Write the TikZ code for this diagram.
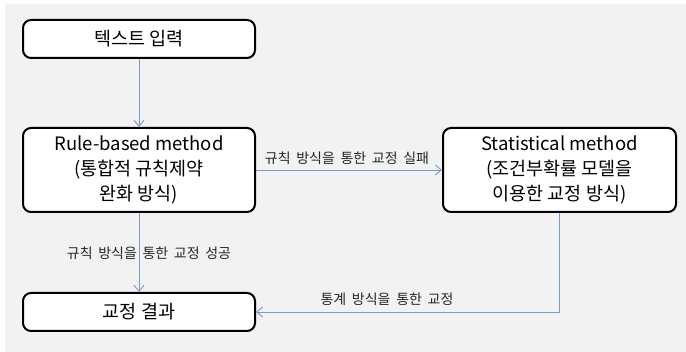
\documentclass[tikz,border=0pt]{standalone}
\usepackage{fontspec}
\setmainfont{Noto Sans CJK KR}
\newfontfamily\lblfont[WordSpace=1.8]{Noto Sans CJK KR}
\usetikzlibrary{arrows.meta,positioning}
\definecolor{bgc}{HTML}{F2F2F2}
\definecolor{arr}{HTML}{7A98C8}
\tikzset{
  box/.style={draw=black, line width=2pt, rounded corners=8pt, fill=white, align=center, font=\fontsize{18.5}{25}\selectfont, inner sep=0pt},
  conn/.style={draw=arr, line width=0.9pt, -{Straight Barb[length=6pt,width=10pt]}},
  lbl/.style={font=\lblfont\fontsize{14}{15}\selectfont, text=black!85, inner sep=0pt}
}
\begin{document}
\begin{tikzpicture}[x=1pt,y=-1pt]
\useasboundingbox (0,0) rectangle (686,352);
\fill[bgc] (5,4) rectangle (686,352);
\node[box, minimum width=232pt, minimum height=38pt] (input) at (139,39) {텍스트 입력};
\node[box, minimum width=232pt, minimum height=84pt] (rule) at (139,170) {Rule-based method\\(통합적 규칙제약\\완화 방식)};
\node[box, minimum width=233pt, minimum height=84pt] (stat) at (559.5,170) {Statistical method\\(조건부확률 모델을\\이용한 교정 방식)};
\node[box, minimum width=232pt, minimum height=38pt] (result) at (139,312) {교정 결과};
\draw[conn] (input.south) -- (rule.north);
\draw[conn] (rule.south) -- (result.north);
\draw[conn] (rule.east) -- (stat.west);
\draw[conn] (stat.south) |- (result.east);
\node[lbl] (l1) at (347,158) {규칙 방식을 통한 교정 실패};
\node[lbl] (l2) at (149,253) {규칙 방식을 통한 교정 성공};
\node[lbl] (l3) at (387,299) {통계 방식을 통한 교정};
\end{tikzpicture}
\end{document}
